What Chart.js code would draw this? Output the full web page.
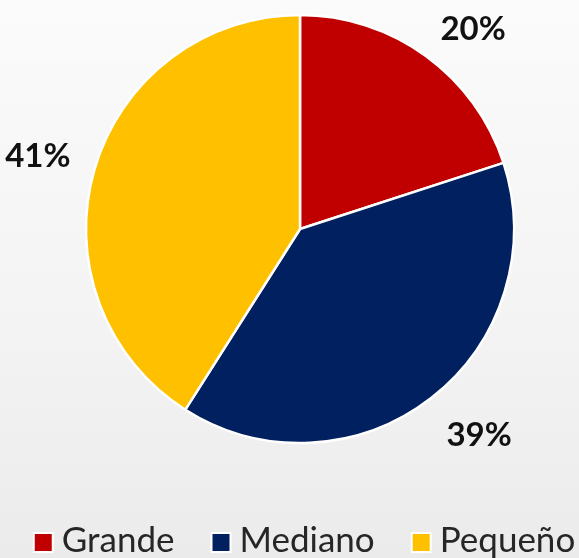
<!DOCTYPE html>
<html>
<head>
<meta charset="utf-8">
<script src="https://cdn.jsdelivr.net/npm/chart.js@4.4.1/dist/chart.umd.min.js"></script>
<style>
  html, body { margin: 0; padding: 0; }
  body { width: 579px; height: 558px; background: linear-gradient(to bottom, #fbfbfb 0%, #f3f3f3 60%, #ebebeb 100%); overflow: hidden; }
  #wrap { position: relative; width: 579px; height: 558px; }
</style>
</head>
<body>
<div id="wrap"><canvas id="c" width="579" height="558"></canvas></div>
<script>
const categories = ["Grande", "Mediano", "Pequeño"];
const values = [20, 39, 41];
const percentLabels = ["20%", "39%", "41%"];
const colors = ["#C00000", "#002060", "#FFC000"];

const labelFont = "bold 33px Lato, 'Open Sans', sans-serif";
const legendFont = "35px Lato, 'Open Sans', sans-serif";

const pctPlugin = {
  id: 'pctLabels',
  afterDatasetsDraw(chart) {
    const ctx = chart.ctx;
    const meta = chart.getDatasetMeta(0);
    ctx.save();
    ctx.font = labelFont;
    ctx.fillStyle = "#111111";
    ctx.textAlign = "center";
    ctx.textBaseline = "middle";
    meta.data.forEach((arc, i) => {
      const mid = (arc.startAngle + arc.endAngle) / 2;
      const ux = Math.cos(mid), uy = Math.sin(mid);
      const r = arc.outerRadius + 25;
      const hw = ctx.measureText(percentLabels[i]).width / 2;
      const hh = 12;
      const x = arc.x + ux * r + (ux >= 0 ? hw : -hw);
      const y = arc.y + uy * r + (uy >= 0 ? hh : -hh) + 6;
      ctx.fillText(percentLabels[i], x, y);
    });
    ctx.restore();
  }
};

const legendPlugin = {
  id: 'customLegend',
  afterDraw(chart) {
    const ctx = chart.ctx;
    const meta = chart.getDatasetMeta(0);
    const cx = meta.data[0].x + 4;
    const y = 542.5;
    const box = 17, border = 2, gapText = 8, gapItem = 36;
    ctx.save();
    ctx.font = legendFont;
    const widths = categories.map(t => box + 2 * border + gapText + ctx.measureText(t).width);
    const total = widths.reduce((a, b) => a + b, 0) + gapItem * (categories.length - 1);
    let x = cx - total / 2;
    categories.forEach((t, i) => {
      ctx.fillStyle = "#ffffff";
      ctx.fillRect(x, y - box / 2 - border, box + 2 * border, box + 2 * border);
      ctx.fillStyle = colors[i];
      ctx.fillRect(x + border, y - box / 2, box, box);
      ctx.fillStyle = "#262626";
      ctx.textAlign = "left";
      ctx.textBaseline = "alphabetic";
      ctx.fillText(t, x + box + 2 * border + gapText, 552);
      x += widths[i] + gapItem;
    });
    ctx.restore();
  }
};

new Chart(document.getElementById('c'), {
  type: 'pie',
  data: {
    labels: categories,
    datasets: [{
      data: values,
      backgroundColor: colors,
      borderColor: "#ffffff",
      borderWidth: 2.5
    }]
  },
  options: {
    responsive: false,
    animation: false,
    radius: 214,
    layout: { padding: { top: 14, bottom: 114, left: 85, right: 64 } },
    plugins: {
      legend: { display: false },
      tooltip: { enabled: false }
    }
  },
  plugins: [pctPlugin, legendPlugin]
});
</script>
</body>
</html>
